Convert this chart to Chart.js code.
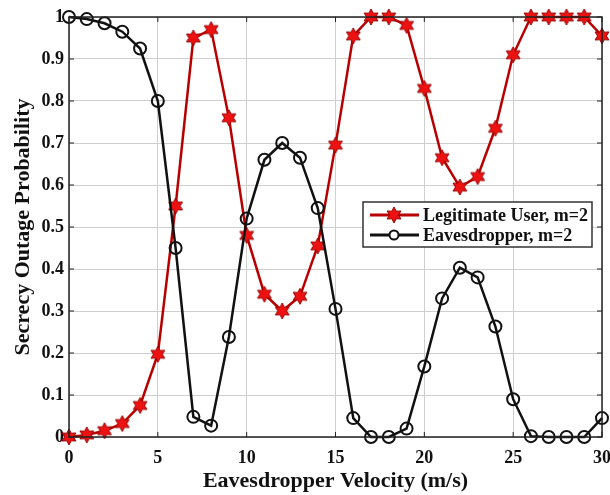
<!DOCTYPE html>
<html>
<head>
<meta charset="utf-8">
<script src="https://cdn.jsdelivr.net/npm/chart.js@4/dist/chart.umd.min.js"></script>
<style>
  html, body { margin: 0; padding: 0; background: #fff; }
  #wrap { width: 610px; height: 495px; }
</style>
</head>
<body>
<div id="wrap"><canvas id="grafico" width="610" height="495"></canvas></div>
<script>
// dados
const velocidades = [0,1,2,3,4,5,6,7,8,9,10,11,12,13,14,15,16,17,18,19,20,21,22,23,24,25,26,27,28,29,30];
const usuarioLegitimo = [0, 0.005, 0.015, 0.032, 0.075, 0.197, 0.55, 0.95, 0.97, 0.76, 0.48, 0.34, 0.30, 0.335, 0.455, 0.695, 0.955, 1.0, 1.0, 0.98, 0.83, 0.665, 0.595, 0.62, 0.735, 0.91, 1.0, 1.0, 1.0, 1.0, 0.955];
const espiao = [1.0, 0.995, 0.985, 0.965, 0.925, 0.80, 0.45, 0.048, 0.027, 0.238, 0.52, 0.66, 0.70, 0.665, 0.545, 0.305, 0.045, 0, 0, 0.02, 0.168, 0.33, 0.403, 0.38, 0.263, 0.09, 0.002, 0, 0, 0, 0.045];
const ticksX = [0, 5, 10, 15, 20, 25, 30];
const ticksY = [0, 0.1, 0.2, 0.3, 0.4, 0.5, 0.6, 0.7, 0.8, 0.9, 1];
const nomes = ['Legitimate User, m=2', 'Eavesdropper, m=2'];

const fonte = '"Liberation Serif", "Times New Roman", serif';

// estrela de 6 pontas para os marcadores
function criarEstrela(r) {
    const c = document.createElement('canvas');
    const s = Math.ceil(r * 2 + 4);
    c.width = s; c.height = s;
    const g = c.getContext('2d');
    g.translate(s / 2, s / 2);
    g.beginPath();
    for (let i = 0; i < 12; i++) {
        const ang = -Math.PI / 2 + i * Math.PI / 6;
        const rr = i % 2 === 0 ? r : r * 0.55;
        g.lineTo(Math.cos(ang) * rr, Math.sin(ang) * rr);
    }
    g.closePath();
    g.fillStyle = '#ee1111';
    g.fill();
    g.strokeStyle = '#990000';
    g.lineWidth = 1;
    g.stroke();
    return c;
}
const estrela = criarEstrela(8);

const corLinhaVermelha = '#b80000';

// moldura, marcas internas e legenda
const molduraPlugin = {
    id: 'moldura',
    afterDraw(chart) {
        const ctx = chart.ctx;
        const a = chart.chartArea;
        const sx = chart.scales.x, sy = chart.scales.y;
        ctx.save();
        ctx.strokeStyle = '#222';
        ctx.lineWidth = 1.5;
        ctx.strokeRect(a.left, a.top, a.right - a.left, a.bottom - a.top);
        ctx.lineWidth = 1;
        ctx.beginPath();
        ticksX.forEach(v => {
            const px = sx.getPixelForValue(v);
            ctx.moveTo(px, a.top); ctx.lineTo(px, a.top + 5);
            ctx.moveTo(px, a.bottom); ctx.lineTo(px, a.bottom - 5);
        });
        ticksY.forEach(v => {
            const py = sy.getPixelForValue(v);
            ctx.moveTo(a.left, py); ctx.lineTo(a.left + 5, py);
            ctx.moveTo(a.right, py); ctx.lineTo(a.right - 5, py);
        });
        ctx.stroke();

        // legenda
        const lx = a.right - 239, ly = a.top + 185, lw = 229, lh = 45;
        ctx.fillStyle = '#fff';
        ctx.fillRect(lx, ly, lw, lh);
        ctx.strokeStyle = '#333';
        ctx.lineWidth = 1.5;
        ctx.strokeRect(lx, ly, lw, lh);
        const linhas = [
            { cor: corLinhaVermelha, y: ly + 13 },
            { cor: '#111', y: ly + 33 }
        ];
        linhas.forEach((l, i) => {
            ctx.strokeStyle = l.cor;
            ctx.lineWidth = 3;
            ctx.beginPath();
            ctx.moveTo(lx + 7, l.y); ctx.lineTo(lx + 56, l.y);
            ctx.stroke();
            const cx = lx + 31;
            if (i === 0) {
                ctx.drawImage(estrela, cx - estrela.width / 2, l.y - estrela.height / 2);
            } else {
                ctx.beginPath();
                ctx.arc(cx, l.y, 4.5, 0, Math.PI * 2);
                ctx.fillStyle = '#fff';
                ctx.fill();
                ctx.lineWidth = 2;
                ctx.stroke();
            }
            ctx.fillStyle = '#111';
            ctx.font = 'bold 18px ' + fonte;
            ctx.textBaseline = 'middle';
            ctx.fillText(nomes[i], lx + 60, l.y + 1);
        });
        ctx.restore();
    }
};

const ctx = document.getElementById('grafico').getContext('2d');
new Chart(ctx, {
    type: 'line',
    data: {
        labels: velocidades,
        datasets: [{
            label: nomes[0],
            data: velocidades.map((v, i) => ({ x: v, y: usuarioLegitimo[i] })),
            borderColor: corLinhaVermelha,
            borderWidth: 2.5,
            pointStyle: estrela,
            fill: false,
            tension: 0,
            order: 1
        }, {
            label: nomes[1],
            data: velocidades.map((v, i) => ({ x: v, y: espiao[i] })),
            borderColor: '#111',
            borderWidth: 2.5,
            pointStyle: 'circle',
            pointRadius: 6,
            pointBorderWidth: 2,
            pointBackgroundColor: 'rgba(255,255,255,0)',
            pointBorderColor: '#111',
            fill: false,
            tension: 0,
            order: 0
        }]
    },
    options: {
        responsive: false,
        animation: false,
        clip: false,
        layout: { padding: { left: 10, right: 8, top: 17, bottom: 0 } },
        plugins: {
            legend: { display: false },
            tooltip: { enabled: false }
        },
        scales: {
            x: {
                type: 'linear',
                min: 0,
                max: 30,
                afterBuildTicks: s => { s.ticks = ticksX.map(v => ({ value: v })); },
                afterFit: s => { s.height = 58; s.paddingRight = 8; s.paddingLeft = 0; },
                grid: { color: '#cfcfcf', lineWidth: 1, drawTicks: false },
                border: { display: false },
                ticks: { color: '#111', padding: 11, font: { family: fonte, size: 18, weight: 'bold' } },
                title: {
                    display: true,
                    text: 'Eavesdropper Velocity (m/s)',
                    color: '#111',
                    padding: { top: 0, bottom: 0 },
                    font: { family: fonte, size: 22, weight: 'bold' }
                }
            },
            y: {
                min: 0,
                max: 1,
                afterBuildTicks: s => { s.ticks = ticksY.map(v => ({ value: v })); },
                afterFit: s => { s.width = 59; s.paddingTop = 0; s.paddingBottom = 0; },
                grid: { color: '#cfcfcf', lineWidth: 1, drawTicks: false },
                border: { display: false },
                ticks: {
                    color: '#111',
                    padding: 5,
                    font: { family: fonte, size: 18, weight: 'bold' },
                    callback: v => String(+v.toFixed(1))
                },
                title: {
                    display: true,
                    text: 'Secrecy Outage Probability',
                    color: '#111',
                    padding: { top: 0, bottom: 4 },
                    font: { family: fonte, size: 22, weight: 'bold' }
                }
            }
        }
    },
    plugins: [molduraPlugin]
});
</script>
</body>
</html>
